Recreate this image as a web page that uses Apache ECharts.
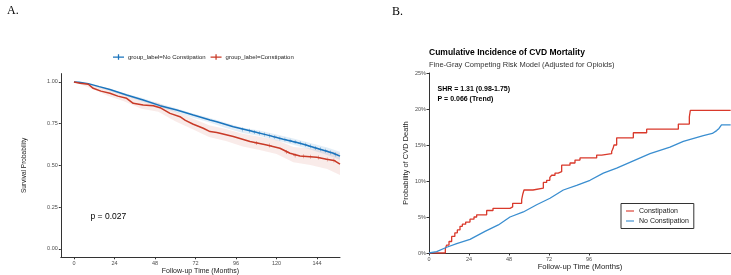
<!DOCTYPE html>
<html>
<head>
<meta charset="utf-8">
<script src="https://cdn.jsdelivr.net/npm/echarts@6/dist/echarts.min.js"></script>
<style>
  html, body { margin: 0; padding: 0; background: #fff; }
  #main { width: 731px; height: 275px; }
</style>
</head>
<body>
<div id="main"></div>
<script>
// --- Panel A: Kaplan-Meier survival (t months, S) ---
const kmNoConst = [[0,1.0],[3,0.998],[8.5,0.99],[15,0.972],[21.3,0.955],[31.2,0.922],[41,0.892],[51,0.858],[60.9,0.832],[70.7,0.802],[80.6,0.772],[84.6,0.762],[94.4,0.732],[104.3,0.708],[114.2,0.683],[124,0.657],[133.9,0.633],[143.8,0.603],[153.7,0.573],[157.6,0.556]];
const kmConst = [[0,1.0],[3.6,0.992],[8.5,0.986],[11.4,0.962],[16,0.945],[21.3,0.932],[26,0.915],[31.2,0.902],[35.1,0.872],[41,0.862],[47,0.858],[51,0.846],[56.9,0.812],[62.8,0.792],[66,0.77],[70.7,0.747],[76.6,0.723],[80.6,0.703],[84.6,0.697],[94.4,0.673],[104.3,0.643],[114.2,0.623],[122,0.603],[128,0.573],[133.9,0.557],[143.8,0.549],[149.7,0.537],[154,0.53],[157.6,0.508]];

// 置信带
const bandT = [0,10,20,30,40,50,60,70,80,90,100,110,120,130,140,150,157.6];
const blueUpper = [1.0,0.986,0.963,0.933,0.905,0.873,0.844,0.813,0.786,0.755,0.726,0.71,0.685,0.662,0.635,0.607,0.582];
const blueLower = [1.0,0.978,0.951,0.917,0.885,0.851,0.82,0.787,0.758,0.725,0.694,0.676,0.649,0.624,0.595,0.563,0.534];
const redUpper = [1.0,0.987,0.953,0.927,0.889,0.875,0.825,0.782,0.74,0.719,0.69,0.672,0.652,0.611,0.602,0.591,0.573];
const redLower = [1.0,0.963,0.917,0.883,0.839,0.821,0.765,0.718,0.67,0.647,0.614,0.592,0.568,0.519,0.502,0.479,0.443];

// 删失标记
const censorNoConst = [[100,0.716],[104,0.708],[107,0.70],[110,0.693],[113,0.686],[116,0.678],[119,0.67],[122,0.662],[125,0.655],[128,0.648],[131,0.64],[134,0.633],[137,0.624],[140,0.615],[143,0.605],[146,0.597],[149,0.588],[152,0.578],[155,0.566]];
const censorConst = [[108,0.635],[116,0.62],[126,0.58],[131,0.56],[136,0.555],[140,0.552],[145,0.548],[150,0.536],[154,0.53]];

const ticksA_x = [0,24,48,72,96,120,144];
const ticksA_y = [0,0.25,0.5,0.75,1];

// --- Panel B: cumulative incidence (t months, %) ---
const cifConst = [[0,0],[9.8,0.6],[10.6,1.1],[12,1.6],[13.6,2.3],[15.5,2.8],[17,3.2],[18.6,3.7],[20,4.0],[22,4.3],[24.6,4.7],[27,5.0],[28.6,5.3],[34.6,5.9],[38.4,6.2],[48.6,6.4],[50.2,6.9],[55.6,7.4],[56.3,8.2],[57,8.75],[62.4,9.0],[68.6,9.8],[70.6,10.1],[72.5,10.5],[73.6,10.8],[75.6,11.1],[77.5,11.3],[79.6,12.2],[84.6,12.5],[87.6,12.9],[90.6,13.2],[100.6,13.6],[103.6,13.8],[109.6,14.1],[110.4,14.5],[111,15.0],[112.6,16.0],[122.6,16.7],[130.6,17.2],[149.6,17.9],[156.2,18.9],[156.8,19.8],[181,19.8]];
const cifNoConst = [[0,0],[4.6,0.2],[10.6,0.8],[16.6,1.3],[24.6,1.9],[33.6,3.0],[41.6,3.9],[48.6,5.0],[56.6,5.7],[64.6,6.7],[72.6,7.6],[80.6,8.75],[88.6,9.4],[96.6,10.1],[104.6,11.1],[112.6,11.8],[122.6,12.8],[132.6,13.8],[144.6,14.7],[152.6,15.5],[164.6,16.3],[170,16.6],[172.6,17.0],[174,17.3],[175.5,17.8],[181,17.8]];
const ticksB_x = [0,24,48,72,96];

const FONT = 'Liberation Sans, Arial, sans-serif';
const A_BLUE = '#1a74bd', A_RED = '#c93a27';
const B_RED = '#d9392b', B_BLUE = '#3a8ed0';
const PLUS = 'path://M4,0h1v9h-1z M0,4h9v1h-9z';
const KEY_A = 'path://M0,3.4h14v1.6h-14z M6.2,0.5h1.6v7h-1.6z';

function bandSeries(upper, lower, color) {
  return {
    type: 'custom', xAxisIndex: 0, yAxisIndex: 0, data: [[0, 0]], z: 1, silent: true,
    renderItem: (params, api) => {
      const pts = [];
      bandT.forEach((t, i) => pts.push(api.coord([t, upper[i]])));
      for (let i = bandT.length - 1; i >= 0; i--) pts.push(api.coord([bandT[i], lower[i]]));
      return { type: 'polygon', shape: { points: pts }, style: { fill: color } };
    },
  };
}

const axisA = {
  axisLine: { onZero: false, lineStyle: { color: '#333', width: 1 } },
  axisTick: { length: 2, lineStyle: { color: '#333' } },
  splitLine: { show: false },
};

const chart = echarts.init(document.getElementById('main'));
chart.setOption({
  animation: false,
  title: [
    { text: 'A.', left: 2, top: 0, textStyle: { fontFamily: 'Liberation Serif', fontSize: 12, fontWeight: 'normal', color: '#000' } },
    { text: 'B.', left: 387, top: 1, textStyle: { fontFamily: 'Liberation Serif', fontSize: 12, fontWeight: 'normal', color: '#000' } },
    { text: 'Cumulative Incidence of CVD Mortality', left: 429, top: 48, padding: 0, textStyle: { fontFamily: FONT, fontSize: 8.5, fontWeight: 'bold', color: '#000' } },
    { text: 'Fine-Gray Competing Risk Model (Adjusted for Opioids)', left: 429, top: 61, padding: 0, textStyle: { fontFamily: FONT, fontSize: 7.5, fontWeight: 'normal', color: '#333' } },
    { text: 'SHR = 1.31 (0.98-1.75)', left: 437.5, top: 85.5, padding: 0, textStyle: { fontFamily: FONT, fontSize: 7, fontWeight: 'bold', color: '#000' } },
    { text: 'P = 0.066 (Trend)', left: 437.5, top: 95.5, padding: 0, textStyle: { fontFamily: FONT, fontSize: 7, fontWeight: 'bold', color: '#000' } },
    { text: 'p = 0.027', left: 90.5, top: 212, padding: 0, textStyle: { fontFamily: FONT, fontSize: 8.5, fontWeight: 'normal', color: '#000' } },
  ],
  legend: [
    {
      data: [
        { name: 'group_label=No Constipation', itemStyle: { color: A_BLUE } },
        { name: 'group_label=Constipation', itemStyle: { color: A_RED } },
      ],
      left: 113, top: 54, padding: 0, itemWidth: 11, itemHeight: 6, itemGap: 5, icon: KEY_A,
      textStyle: { fontFamily: FONT, fontSize: 6, color: '#222', padding: [0, 0, 0, -1] },
    },
    {
      data: [
        { name: 'Constipation', icon: 'path://M0,0h10v1.4h-10z' },
        { name: 'No Constipation', icon: 'path://M0,0h10v1.4h-10z' },
      ],
      orient: 'vertical', left: 621, top: 203.5, width: 68,
      padding: [4, 5, 4, 5], itemGap: 3, itemWidth: 8, itemHeight: 2,
      borderColor: '#333', borderWidth: 1,
      textStyle: { fontFamily: FONT, fontSize: 7, color: '#222' },
    },
  ],
  grid: [
    { left: 60.8, right: 391, top: 73.6, bottom: 17.7, outerBoundsMode: 'none' },
    { left: 429, right: 0, top: 73, bottom: 22, outerBoundsMode: 'none' },
  ],
  xAxis: [
    {
      gridIndex: 0, type: 'value', min: -7.8, max: 157.6, ...axisA,
      axisTick: { ...axisA.axisTick, customValues: ticksA_x },
      axisLabel: { customValues: ticksA_x, fontFamily: FONT, fontSize: 5.5, color: '#4d4d4d', margin: 3 },
      name: 'Follow-up Time (Months)', nameLocation: 'middle', nameGap: 10, nameMoveOverlap: false,
      nameTextStyle: { fontFamily: FONT, fontSize: 7, color: '#222' },
    },
    {
      gridIndex: 1, type: 'value', min: 0, max: 181.2,
      axisLine: { onZero: false, lineStyle: { color: '#333', width: 1 } },
      axisTick: { length: 2.5, customValues: ticksB_x, lineStyle: { color: '#333' } },
      axisLabel: { customValues: ticksB_x, fontFamily: FONT, fontSize: 5.5, color: '#4d4d4d', margin: 3 },
      splitLine: { show: false },
      name: 'Follow-up Time (Months)', nameLocation: 'middle', nameGap: 10, nameMoveOverlap: false,
      nameTextStyle: { fontFamily: FONT, fontSize: 7.7, color: '#222' },
    },
  ],
  yAxis: [
    {
      gridIndex: 0, type: 'value', min: -0.05, max: 1.05, ...axisA,
      axisTick: { ...axisA.axisTick, customValues: ticksA_y },
      axisLabel: { customValues: ticksA_y, formatter: v => v.toFixed(2), fontFamily: FONT, fontSize: 5.5, color: '#4d4d4d', margin: 3 },
      name: 'Survival Probability', nameLocation: 'middle', nameGap: 33, nameMoveOverlap: false,
      nameTextStyle: { fontFamily: FONT, fontSize: 6.5, color: '#222' },
    },
    {
      gridIndex: 1, type: 'value', min: 0, max: 25, interval: 5,
      axisLine: { onZero: false, show: true, lineStyle: { color: '#333', width: 1 } },
      axisTick: { show: true, length: 2.5, lineStyle: { color: '#333' } },
      axisLabel: { formatter: v => v + '%', fontFamily: FONT, fontSize: 5.5, color: '#4d4d4d', margin: 3 },
      splitLine: { show: false },
      name: 'Probability of CVD Death', nameLocation: 'middle', nameGap: 19, nameMoveOverlap: false,
      nameTextStyle: { fontFamily: FONT, fontSize: 7.5, color: '#222' },
    },
  ],
  series: [
    bandSeries(redUpper, redLower, 'rgba(201,58,39,0.10)'),
    bandSeries(blueUpper, blueLower, 'rgba(26,116,189,0.12)'),
    { name: 'group_label=No Constipation', type: 'line', xAxisIndex: 0, yAxisIndex: 0, data: kmNoConst, symbol: 'none', z: 3,
      lineStyle: { color: A_BLUE, width: 1.5 }, itemStyle: { color: A_BLUE } },
    { name: 'group_label=Constipation', type: 'line', xAxisIndex: 0, yAxisIndex: 0, data: kmConst, symbol: 'none', z: 3,
      lineStyle: { color: A_RED, width: 1.5 }, itemStyle: { color: A_RED } },
    { name: 'group_label=No Constipation', type: 'scatter', xAxisIndex: 0, yAxisIndex: 0, data: censorNoConst, symbol: PLUS, symbolSize: 4, z: 4,
      itemStyle: { color: A_BLUE } },
    { name: 'group_label=Constipation', type: 'scatter', xAxisIndex: 0, yAxisIndex: 0, data: censorConst, symbol: PLUS, symbolSize: 4, z: 4,
      itemStyle: { color: A_RED } },
    { name: 'Constipation', type: 'line', xAxisIndex: 1, yAxisIndex: 1, data: cifConst, step: 'end', symbol: 'none', z: 3,
      lineStyle: { color: B_RED, width: 1.3 }, itemStyle: { color: B_RED } },
    { name: 'No Constipation', type: 'line', xAxisIndex: 1, yAxisIndex: 1, data: cifNoConst, symbol: 'none', z: 3,
      lineStyle: { color: B_BLUE, width: 1.3 }, itemStyle: { color: B_BLUE } },
  ],
});
</script>
</body>
</html>
